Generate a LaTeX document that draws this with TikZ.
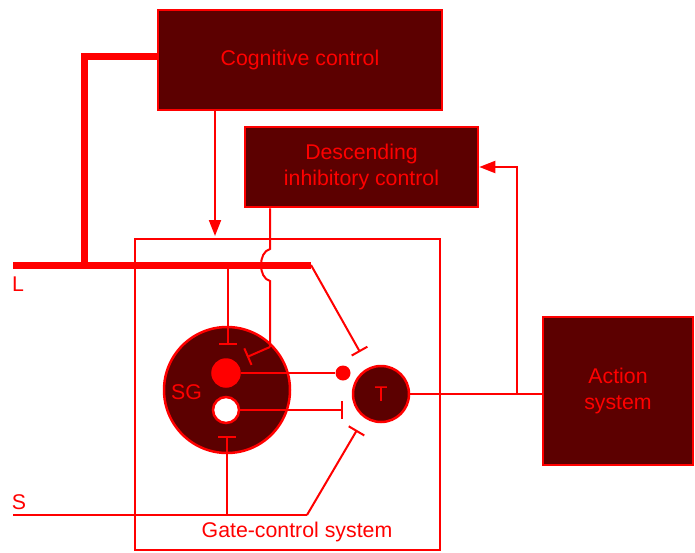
\documentclass[tikz,border=0pt]{standalone}
\usepackage{fontspec}
\setmainfont{Liberation Sans}
\usetikzlibrary{arrows.meta}
\definecolor{boxfill}{RGB}{92,0,0}
\definecolor{lred}{RGB}{255,0,0}
\tikzset{
  blk/.style={draw=lred, line width=2.5pt, fill=boxfill, text=lred, align=center, font=\fontsize{21.3}{26.5}\selectfont, inner sep=0pt},
  wire/.style={draw=lred, line width=2pt},
  thickwire/.style={draw=lred, line width=7pt},
  inh/.style={wire, -{Bar[width=18pt,line width=2pt]}},
  arr/.style={wire, -{Triangle[length=16pt,width=12pt]}},
  lbl/.style={text=lred, font=\fontsize{21.3}{25}\selectfont, inner sep=0pt},
  cell/.style={circle, draw=lred, line width=2.5pt, inner sep=0pt},
}
\begin{document}
\begin{tikzpicture}[x=1pt,y=-1pt]
\useasboundingbox (0,0) rectangle (695,552);
% boxes
\node[blk, minimum width=284pt, minimum height=100pt] (cog) at (300,60) {Cognitive control};
\node[blk, minimum width=233pt, minimum height=80pt] (desc) at (361.5,167) {Descending\\inhibitory control};
\node[blk, minimum width=150pt, minimum height=148pt] (act) at (618,391) {Action\\system};
\node[draw=lred, line width=2pt, minimum width=305pt, minimum height=311pt, inner sep=0pt] (gate) at (287.5,394.5) {};
\node[lbl] (gl) at (297,532) {Gate-control system};
% cells
\node[cell, fill=boxfill, minimum size=126pt] (sg) at (227,390) {};
\node[lbl] (sgl) at (186.5,392) {SG};
\node[cell, fill=lred, minimum size=27pt] (rd) at (226,373) {};
\node[cell, fill=white, minimum size=26pt] (wd) at (226,410) {};
\node[circle, fill=lred, inner sep=0pt, minimum size=15pt] (sd) at (343,373) {};
\node[cell, fill=boxfill, minimum size=56pt, text=lred, font=\fontsize{21.3}{25}\selectfont] (t) at (381,394) {T};
\node[lbl] (ll) at (18,284) {L};
\node[lbl] (sl) at (19,502) {S};
% coordinates
\coordinate (l0) at (13,265);
\coordinate (l1) at (311,265);
\coordinate (k1) at (84,56);
\coordinate (k2) at (84,265);
\coordinate (a1) at (215,236);
\coordinate (lb) at (228,265);
\coordinate (lbe) at (228,345);
\coordinate (lde) at (360,352);
\coordinate (d0) at (270,249);
\coordinate (d1) at (270,281);
\coordinate (d2) at (270,347);
\coordinate (dbe) at (247,357);
\coordinate (wbe) at (343,410);
\coordinate (s0) at (13,515);
\coordinate (s1) at (307,515);
\coordinate (sb) at (227,515);
\coordinate (sbe) at (227,436);
\coordinate (se) at (357,430);
\coordinate (fb) at (517,394);
% connectors
\draw[thickwire] (cog.west |- k1) -- (k1) -- (k2);
\draw[thickwire] (l0) -- (l1);
\draw[arr] (a1 |- cog.south) -- (a1);
\draw[wire] (d0 |- desc.south) -- (d0) .. controls (258,252) and (258,278) .. (d1) -- (d2);
\draw[inh] (d2) -- (dbe);
\draw[inh] (lb) -- (lbe);
\draw[inh] (l1) -- (lde);
\draw[wire] (rd.east) -- (sd.west);
\draw[inh] (wd.east) -- (wbe);
\draw[wire] (s0) -- (s1);
\draw[inh] (s1) -- (se);
\draw[inh] (sb) -- (sbe);
\draw[wire] (t.east) -- (t.east -| act.west);
\draw[arr] (fb) |- (desc.east);
\end{tikzpicture}
\end{document}
